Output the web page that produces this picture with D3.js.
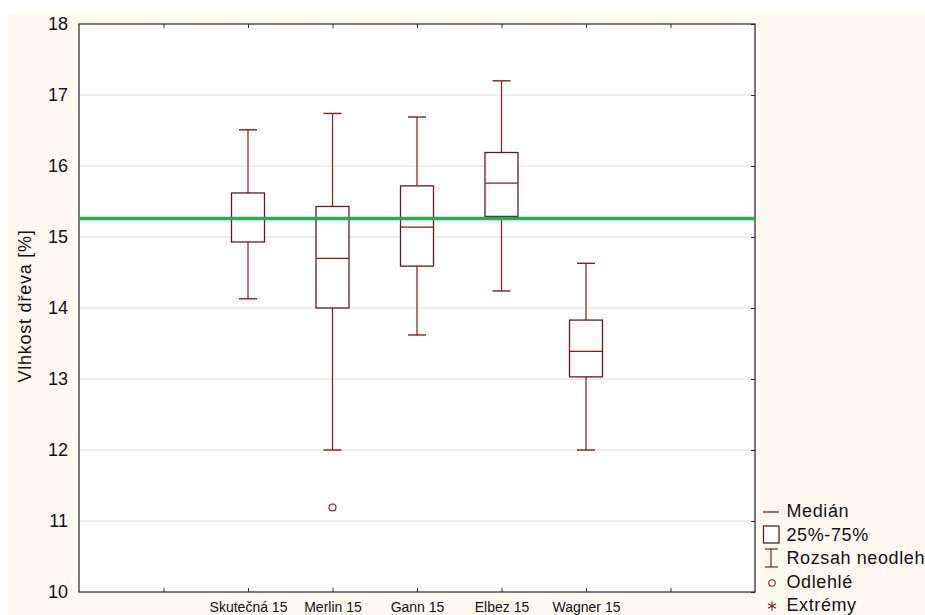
<!DOCTYPE html>
<html>
<head>
<meta charset="utf-8">
<script src="https://cdn.jsdelivr.net/npm/d3@7"></script>
<style>
  html, body { margin: 0; padding: 0; background: #ffffff; }
  svg { display: block; font-family: "Liberation Sans", Arial, sans-serif; }
</style>
</head>
<body>
<svg id="chart" width="925" height="615"></svg>
<script>
// Box-plot summary per sample: whisker ends, quartiles, median
const categories = ["Skutečná 15", "Merlin 15", "Gann 15", "Elbez 15", "Wagner 15"];
const positions  = [2, 3, 4, 5, 6];
const whiskerLow  = [14.13, 12.00, 13.62, 14.24, 12.00];
const q1          = [14.93, 14.00, 14.59, 15.29, 13.03];
const medians     = [15.26, 14.70, 15.14, 15.76, 13.39];
const q3          = [15.62, 15.43, 15.72, 16.19, 13.83];
const whiskerHigh = [16.51, 16.74, 16.69, 17.20, 14.63];
const outliers    = [{ pos: 3, value: 11.19 }];
const referenceValue = 15.26;
const yTicks = [10, 11, 12, 13, 14, 15, 16, 17, 18];
const xTickPositions = [1, 2, 3, 4, 5, 6, 7];
const legendItems = ["Medián", "25%-75%", "Rozsah neodlehlých", "Odlehlé", "Extrémy"];

const svg = d3.select("#chart");
const W = 925, H = 615;
const plot = { left: 79, top: 24, right: 755, bottom: 592 };

const boxStroke = "#5c1f1f";
const redStroke = "#8b1a1a";

// page background
svg.append("rect").attr("x", 8).attr("y", 14).attr("width", W - 8).attr("height", H - 14)
  .attr("fill", "#fffaf0");

const x = d3.scaleLinear().domain([0, 8]).range([plot.left, plot.right]);
const y = d3.scaleLinear().domain([10, 18]).range([plot.bottom, plot.top]);

// plot area
svg.append("rect").attr("x", plot.left).attr("y", plot.top)
  .attr("width", plot.right - plot.left).attr("height", plot.bottom - plot.top)
  .attr("fill", "#ffffff");

// gridlines
svg.append("g").selectAll("line").data(yTicks.slice(1, -1)).join("line")
  .attr("x1", plot.left).attr("x2", plot.right)
  .attr("y1", d => y(d)).attr("y2", d => y(d))
  .attr("stroke", "#dcdcdc").attr("stroke-width", 1);

// axes with inward ticks
const tickFmt = d3.format("d");
svg.append("g").attr("transform", `translate(${plot.left},0)`)
  .call(d3.axisLeft(y).tickValues(yTicks).tickFormat(tickFmt).tickSizeInner(0).tickSizeOuter(0).tickPadding(11))
  .call(g => g.select(".domain").remove())
  .call(g => g.selectAll("text").attr("font-size", 18).attr("fill", "#111"));

svg.append("g").attr("transform", `translate(${plot.right},0)`)
  .call(d3.axisRight(y).tickValues(yTicks).tickFormat("").tickSizeInner(-4).tickSizeOuter(0))
  .call(g => g.select(".domain").remove())
  .call(g => g.selectAll("line").attr("stroke", "#333"));

svg.append("g").attr("transform", `translate(0,${plot.top})`)
  .call(d3.axisTop(x).tickValues(xTickPositions).tickFormat("").tickSizeInner(-4).tickSizeOuter(0))
  .call(g => g.select(".domain").remove())
  .call(g => g.selectAll("line").attr("stroke", "#333"));

const labelMap = new Map(positions.map((p, i) => [p, categories[i]]));
svg.append("g").attr("transform", `translate(0,${plot.bottom})`)
  .call(d3.axisBottom(x).tickValues(xTickPositions).tickFormat(d => labelMap.get(d) || "")
    .tickSizeInner(-4).tickSizeOuter(0).tickPadding(10))
  .call(g => g.select(".domain").remove())
  .call(g => g.selectAll("line").attr("stroke", "#333"))
  .call(g => g.selectAll("text").attr("font-size", 14).attr("fill", "#111"));

// frame
svg.append("rect").attr("x", plot.left).attr("y", plot.top)
  .attr("width", plot.right - plot.left).attr("height", plot.bottom - plot.top)
  .attr("fill", "none").attr("stroke", "#222").attr("stroke-width", 1.2);

// y-axis title
svg.append("text")
  .attr("transform", `translate(31,306) rotate(-90)`)
  .attr("text-anchor", "middle").attr("font-size", 18).attr("letter-spacing", 0.75)
  .attr("fill", "#111")
  .text("Vlhkost dřeva [%]");

// boxes
const boxW = 33, capW = 18;
const boxes = svg.append("g");
positions.forEach((p, i) => {
  const cx = x(p);
  const g = boxes.append("g");
  // whiskers
  g.append("line").attr("x1", cx).attr("x2", cx).attr("y1", y(q3[i])).attr("y2", y(whiskerHigh[i]))
    .attr("stroke", redStroke).attr("stroke-width", 1.2);
  g.append("line").attr("x1", cx).attr("x2", cx).attr("y1", y(q1[i])).attr("y2", y(whiskerLow[i]))
    .attr("stroke", redStroke).attr("stroke-width", 1.2);
  [whiskerHigh[i], whiskerLow[i]].forEach(v => {
    g.append("line").attr("x1", cx - capW / 2).attr("x2", cx + capW / 2)
      .attr("y1", y(v)).attr("y2", y(v)).attr("stroke", redStroke).attr("stroke-width", 1.4);
  });
  // box
  g.append("rect").attr("x", cx - boxW / 2).attr("y", y(q3[i]))
    .attr("width", boxW).attr("height", y(q1[i]) - y(q3[i]))
    .attr("fill", "#ffffff").attr("stroke", boxStroke).attr("stroke-width", 1.3);
  // median
  g.append("line").attr("x1", cx - boxW / 2).attr("x2", cx + boxW / 2)
    .attr("y1", y(medians[i])).attr("y2", y(medians[i]))
    .attr("stroke", redStroke).attr("stroke-width", 1.3);
});

// outliers
svg.append("g").selectAll("circle").data(outliers).join("circle")
  .attr("cx", d => x(d.pos)).attr("cy", d => y(d.value)).attr("r", 3.5)
  .attr("fill", "none").attr("stroke", redStroke).attr("stroke-width", 1.1);

// reference line
svg.append("line").attr("x1", plot.left).attr("x2", plot.right)
  .attr("y1", y(referenceValue)).attr("y2", y(referenceValue))
  .attr("stroke", "#22b14c").attr("stroke-width", 3.5);

// legend
const legend = svg.append("g").attr("transform", "translate(763,511)");
const rowH = 23.5;
legendItems.forEach((t, i) => {
  const gy = i * rowH;
  const g = legend.append("g").attr("transform", `translate(0,${gy})`);
  if (i === 0) {
    g.append("line").attr("x1", 0).attr("x2", 16).attr("y1", 1).attr("y2", 1)
      .attr("stroke", redStroke).attr("stroke-width", 1.3);
  } else if (i === 1) {
    g.append("rect").attr("x", 0.5).attr("y", -8.5).attr("width", 15.5).attr("height", 17)
      .attr("fill", "#fff").attr("stroke", boxStroke).attr("stroke-width", 1.3);
  } else if (i === 2) {
    g.append("line").attr("x1", 8).attr("x2", 8).attr("y1", -9).attr("y2", 9).attr("stroke", redStroke).attr("stroke-width", 1.2);
    g.append("line").attr("x1", 2).attr("x2", 15).attr("y1", -9).attr("y2", -9).attr("stroke", redStroke).attr("stroke-width", 1.2);
    g.append("line").attr("x1", 2).attr("x2", 15).attr("y1", 9).attr("y2", 9).attr("stroke", redStroke).attr("stroke-width", 1.2);
  } else if (i === 3) {
    g.append("circle").attr("cx", 9).attr("cy", 1.5).attr("r", 3.3)
      .attr("fill", "none").attr("stroke", redStroke).attr("stroke-width", 1.1);
  } else {
    g.append("path").attr("d", d3.symbol(d3.symbolAsterisk, 60)())
      .attr("transform", "translate(9,1)").attr("fill", "none")
      .attr("stroke", redStroke).attr("stroke-width", 1.1);
  }
  g.append("text").attr("x", 23.5).attr("y", 6).attr("font-size", 18).attr("letter-spacing", 0.6)
    .attr("fill", "#111").text(t);
});
</script>
</body>
</html>
